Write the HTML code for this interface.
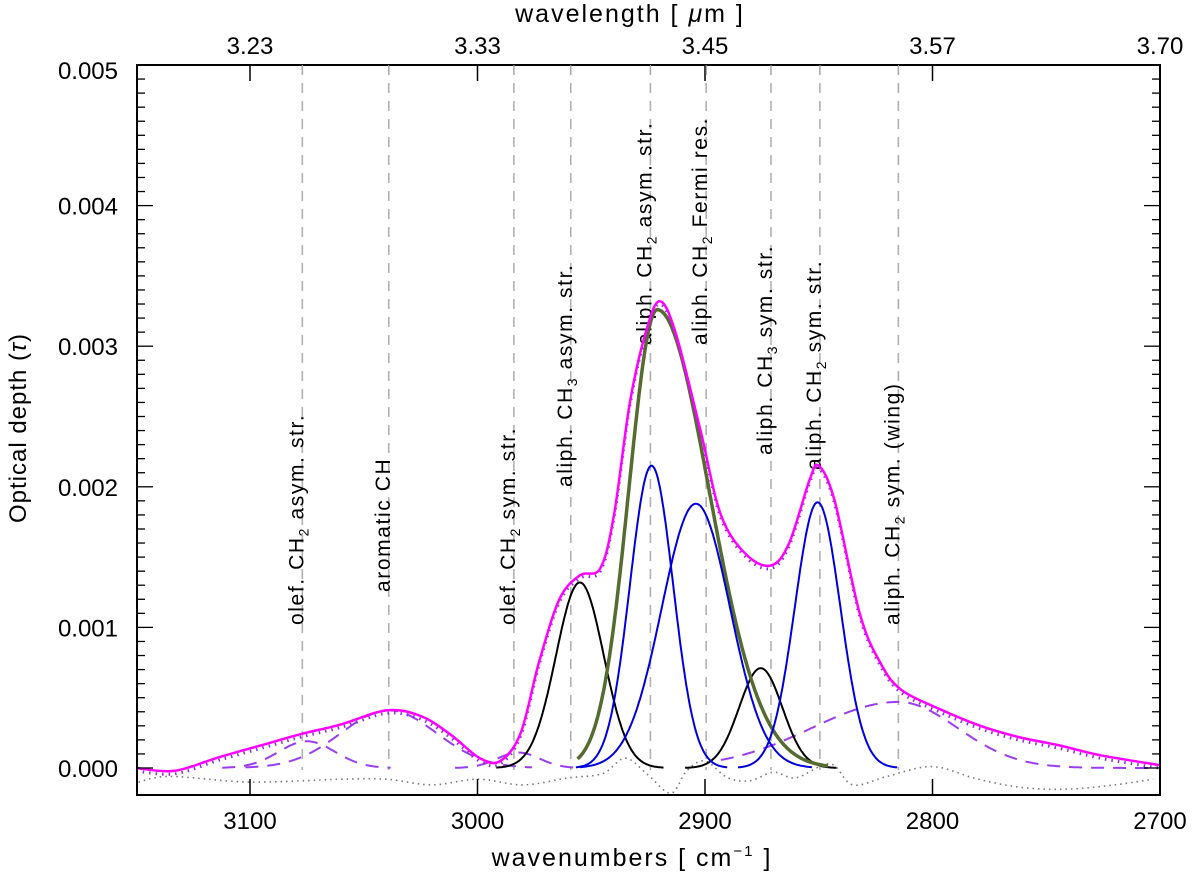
<!DOCTYPE html>
<html><head><meta charset="utf-8"><style>
body{margin:0;background:#fff;}
svg{display:block;font-family:"Liberation Sans","DejaVu Sans",sans-serif;}
</style></head><body>
<svg id="chart" width="1200" height="880" viewBox="0 0 1200 880">
<defs><clipPath id="plotclip"><rect x="137" y="65" width="1023" height="730"/></clipPath></defs>
<g id="grid"></g>
<g id="curves" clip-path="url(#plotclip)"></g>
<g id="axes"></g>
</svg>
<script>
// ---- data ----
const xTickValues=[3100,3000,2900,2800,2700];
const xTickLabels=["3100","3000","2900","2800","2700"];
const topTickLabels=["3.23","3.33","3.45","3.57","3.70"];
const yTickValues=[0,0.001,0.002,0.003,0.004,0.005];
const yTickLabels=["0.000","0.001","0.002","0.003","0.004","0.005"];
const lineCenters=[3077,3039,2984,2959,2924,2899.5,2871,2849.5,2815];
const lineLabels=[["olef. CH","2"," asym. str."],["aromatic CH","",""],["olef. CH","2"," sym. str."],["aliph. CH","3"," asym. str."],["aliph. CH","2"," asym. str."],["aliph. CH","2"," Fermi res."],["aliph. CH","3"," sym. str."],["aliph. CH","2"," sym. str."],["aliph. CH","2"," sym. (wing)"]];
const labelEndY=[625,592,625,487,345,345,455,470,625];
const blackCenters=[2955,2875.5];
const blackAmps=[0.00132,0.00071];
const blackSigmas=[10.5,9.5];
const blueCenters=[2923.5,2904,2850.5];
const blueAmps=[0.00215,0.00188,0.00189];
const blueSigmas=[9.5,15,10];
const oliveCenter=2921;
const oliveAmp=0.00326;
const oliveSigmaHigh=12.5;
const oliveSigmaLow=22.8;
const dashCenters=[3075,3039,2982,2815];
const dashAmps=[0.00019,0.00041,0.00011,0.00047];
const dashSigmas=[12.4,21,9.3,26];
const dashSigmasRight=[12.4,21,9.3,38];
const totalWn=[3150,3133,3113,3091,3078,3060,3040,3025,3012,2999,2990,2981,2973,2964,2955,2946,2940,2933,2926,2920,2913,2902,2893,2882,2871,2863,2854,2850,2843,2832,2823,2814,2797,2779,2762,2744,2726,2700];
const totalVals=[0,-0.00002,0.00008,0.00018,0.00024,0.00031,0.00041,0.00037,0.00024,0.00007,0.00005,0.00025,0.00075,0.0012,0.00137,0.00142,0.0018,0.0026,0.0031,0.00332,0.0031,0.0024,0.0018,0.00152,0.00144,0.0016,0.00205,0.00215,0.0019,0.0011,0.00075,0.00056,0.00042,0.0003,0.00022,0.00016,0.00009,0.00002];
const residWn=[3149,3135,3100,3060,3040,3020,3000,2980,2960,2945,2935,2925,2915,2908,2900,2890,2880,2870,2860,2845,2835,2820,2800,2780,2760,2740,2720,2703];
const residVals=[-0.0001,-0.00006,-0.0001,-0.00008,-0.00008,-0.00012,-0.00008,-0.00012,-0.00007,-0.00004,0.00007,-0.00005,-0.00018,-0.00002,0.00005,-0.00007,-0.00009,-0.00003,-0.00007,0.00003,-0.00012,-0.00006,0.00001,-0.00008,-0.00014,-0.00015,-0.00012,-0.00008];

// ---- scales ----
const X0=137,X1=1160,Y0=65,Y1=795;
function xPix(nu){return 250+(3100-nu)*2.275;}
function yPix(v){return 768-v*140600;}
const NS="http://www.w3.org/2000/svg";
function mk(tag,attrs,parent){const e=document.createElementNS(NS,tag);for(const k in attrs)e.setAttribute(k,attrs[k]);parent.appendChild(e);return e;}
function gauss(nu,c,a,s,sr){const sg=(nu>c)?(sr||s):s;const d=nu-c;return a*Math.exp(-d*d/(2*sg*sg));}
const grid=document.getElementById('grid'),curves=document.getElementById('curves'),axes=document.getElementById('axes');

lineCenters.forEach((c,i)=>{
  const x=xPix(c);
  const l=mk('line',{x1:x,x2:x,y1:Y0,y2:Y1-25,stroke:'#b0b0b0','stroke-width':1.6,'stroke-dasharray':'10,8'},grid);
  
  
  const t=mk('text',{transform:`translate(${x+1},${labelEndY[i]}) rotate(-90)`,'font-size':21,'letter-spacing':1.6,fill:'#000'},grid);
  
  
  const lb=lineLabels[i];
  const a=mk('tspan',{},t);a.textContent=lb[0];
  if(lb[1]){const s=mk('tspan',{'font-size':14,dy:5},t);s.textContent=lb[1];const b=mk('tspan',{dy:-5},t);b.textContent=lb[2];}
});

function pathFrom(fn,n0,n1,step){let d='';for(let nu=n0;nu>=n1;nu-=step){d+=(d?'L':'M')+xPix(nu).toFixed(1)+','+yPix(fn(nu)).toFixed(1);}return d;}
function smoothArr(ws,vs){
  const p=ws.map((w,i)=>[xPix(w),yPix(vs[i])]);let d='M'+p[0][0].toFixed(1)+','+p[0][1].toFixed(1);
  for(let i=0;i<p.length-1;i++){const p0=p[Math.max(0,i-1)],p1=p[i],p2=p[i+1],p3=p[Math.min(p.length-1,i+2)];
    const c1=[p1[0]+(p2[0]-p0[0])/6,p1[1]+(p2[1]-p0[1])/6],c2=[p2[0]-(p3[0]-p1[0])/6,p2[1]-(p3[1]-p1[1])/6];
    d+=`C${c1[0].toFixed(1)},${c1[1].toFixed(1)} ${c2[0].toFixed(1)},${c2[1].toFixed(1)} ${p2[0].toFixed(1)},${p2[1].toFixed(1)}`;}
  return d;}

const rp=mk('path',{d:smoothArr(residWn,residVals),fill:'none',stroke:'#777','stroke-width':1.6,'stroke-dasharray':'1.5,4'},curves);



dashCenters.forEach((c,i)=>{
  const sh=dashSigmasRight[i],sl=dashSigmas[i];
  const p=mk('path',{d:pathFrom(nu=>gauss(nu,c,dashAmps[i],dashSigmas[i],dashSigmasRight[i]),c+3*sl,c-3*sh,0.5),fill:'none',stroke:'#9a3cf0','stroke-width':2,'stroke-dasharray':'13,9'},curves);
  
  
});
blackCenters.forEach((c,i)=>{
  const s=blackSigmas[i];
  const p=mk('path',{d:pathFrom(nu=>gauss(nu,c,blackAmps[i],s),c+3.5*s,c-3.5*s,0.5),fill:'none',stroke:'#000','stroke-width':2},curves);
  
  
});
const op=mk('path',{d:pathFrom(nu=>gauss(nu,oliveCenter,oliveAmp,oliveSigmaLow,oliveSigmaHigh),oliveCenter+2.8*oliveSigmaHigh,oliveCenter-3.3*oliveSigmaLow,0.5),fill:'none',stroke:'#556b2f','stroke-width':3.5},curves);


blueCenters.forEach((c,i)=>{
  const s=blueSigmas[i];const k=i==1?3.4:3.5;
  const p=mk('path',{d:pathFrom(nu=>gauss(nu,c,blueAmps[i],s),c+k*s,c-k*s,0.5),fill:'none',stroke:'#0000dd','stroke-width':2},curves);
  
  
});
const obs=mk('path',{d:smoothArr(totalWn,totalVals),fill:'none',stroke:'#8a2be2','stroke-width':3,'stroke-dasharray':'1.5,5',transform:'translate(0,3)'},curves);


const mp=mk('path',{d:smoothArr(totalWn,totalVals),fill:'none',stroke:'#ff00ff','stroke-width':2.5},curves);



const fr=mk('rect',{x:X0,y:Y0,width:X1-X0,height:Y1-Y0,fill:'none',stroke:'#000','stroke-width':2},axes);


xTickValues.forEach((v,i)=>{
  const x=xPix(v);
  mk('line',{x1:x,x2:x,y1:Y1,y2:Y1-16,stroke:'#000','stroke-width':1.5},axes);
  mk('line',{x1:x,x2:x,y1:Y0,y2:Y0+16,stroke:'#000','stroke-width':1.5},axes);
  const t=mk('text',{x:x,y:829,'font-size':24,'text-anchor':'middle'},axes);t.textContent=xTickLabels[i];
  
  
  const tt=mk('text',{x:x,y:54,'font-size':24,'text-anchor':'middle'},axes);tt.textContent=topTickLabels[i];
  
  
});
lineCenters.forEach(c=>{const x=xPix(c);mk('line',{x1:x,x2:x,y1:Y0,y2:Y0+10,stroke:'#aaa','stroke-width':1},axes);});
for(let k=0;k<=49;k++){const v=k*0.0001;const y=yPix(v);if(y<Y0)continue;const L=k%10==0?16:8;
  mk('line',{x1:X0,x2:X0+L,y1:y,y2:y,stroke:'#000','stroke-width':1.3},axes);
  mk('line',{x1:X1,x2:X1-L,y1:y,y2:y,stroke:'#000','stroke-width':1.3},axes);}
yTickValues.forEach((v,i)=>{const y=Math.max(yPix(v),70);
  const t=mk('text',{x:118,y:y+9,'font-size':24,'text-anchor':'end'},axes);t.textContent=yTickLabels[i];
  
  });
const xt=mk('text',{x:632,y:866,'font-size':25,'letter-spacing':2,'text-anchor':'middle'},axes);


xt.innerHTML='wavenumbers  [  cm<tspan font-size="15" dy="-10">−1</tspan><tspan dy="10">  ]</tspan>';
const tt=mk('text',{x:630,y:22,'font-size':25,'letter-spacing':2,'text-anchor':'middle'},axes);


tt.innerHTML='wavelength  [  <tspan font-style="italic">μ</tspan>m  ]';
const yt=mk('text',{transform:'translate(26,428) rotate(-90)','font-size':24,'letter-spacing':1,'text-anchor':'middle'},axes);


yt.innerHTML='Optical depth (<tspan font-style="italic">τ</tspan>)';
</script>
</body></html>
